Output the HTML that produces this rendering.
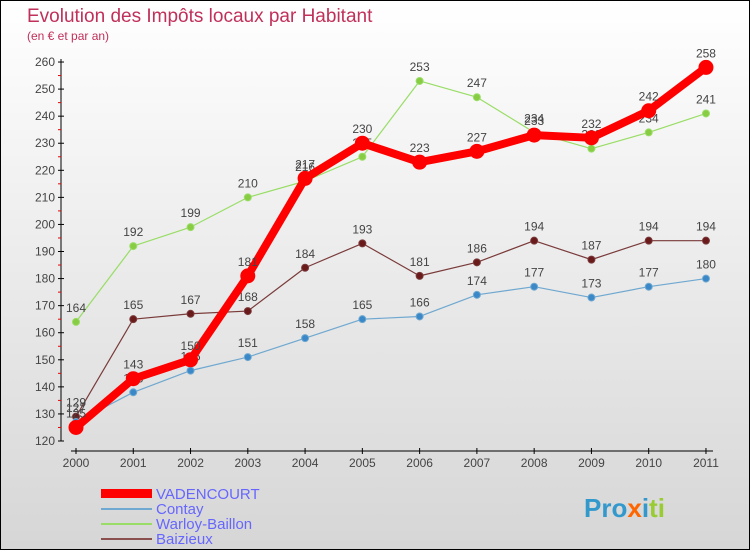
<!DOCTYPE html>
<html><head><meta charset="utf-8"><style>
body{margin:0;}
#c{position:relative;width:748px;height:548px;border:1px solid #000;background:linear-gradient(#ffffff,#d6d6d6);font-family:"Liberation Sans",sans-serif;overflow:hidden}
</style></head><body>
<div id="c">
<svg id="s" width="748" height="548" style="position:absolute;left:0;top:0">
<text x="26" y="21" font-size="19" fill="#c0305a">Evolution des Impôts locaux par Habitant</text>
<text x="26" y="39" font-size="12" fill="#c0305a">(en € et par an)</text>
<g id="axes"></g><g id="series"></g>
<g>
<rect x="100" y="488" width="51" height="9" fill="#f00"/>
<text x="155" y="498" font-size="15" fill="#6666ff">VADENCOURT</text>
<rect x="100" y="507" width="51" height="2" fill="#6fa8d0"/>
<text x="155" y="513" font-size="15" fill="#6666ff">Contay</text>
<rect x="100" y="522" width="51" height="2" fill="#99dd66"/>
<text x="155" y="528" font-size="15" fill="#6666ff">Warloy-Baillon</text>
<rect x="100" y="537" width="51" height="2" fill="#8a5050"/>
<text x="155" y="543" font-size="15" fill="#6666ff">Baizieux</text>
</g>
<text x="583" y="516" font-size="26" font-weight="bold"><tspan fill="#3399cc">Pro</tspan><tspan fill="#ff6600">x</tspan><tspan fill="#3399cc">i</tspan><tspan fill="#99cc33">ti</tspan></text>
</svg></div>
<script>
const years=[2000,2001,2002,2003,2004,2005,2006,2007,2008,2009,2010,2011];
const yTicks=[120,130,140,150,160,170,180,190,200,210,220,230,240,250,260];
const vadencourt=[125,143,150,181,217,230,223,227,233,232,242,258];
const contay=[127,138,146,151,158,165,166,174,177,173,177,180];
const warloy=[164,192,199,210,216,225,253,247,234,228,234,241];
const baizieux=[129,165,167,168,184,193,181,186,194,187,194,194];
const NS="http://www.w3.org/2000/svg";
const X=i=>75+i*57.27, Y=v=>440-(v-120)*2.707;
function mk(t,a,p){const e=document.createElementNS(NS,t);for(const k in a)e.setAttribute(k,a[k]);p.appendChild(e);return e;}
const ax=document.getElementById('axes');
let l=mk('line',{x1:60,y1:58,x2:60,y2:440,stroke:'#000'},ax);


l=mk('line',{x1:70,y1:450,x2:712,y2:450,stroke:'#000'},ax);


yTicks.forEach((v,i)=>{
 mk('line',{x1:57,x2:63,y1:Y(v),y2:Y(v),stroke:'#000'},ax);
 if(i<yTicks.length-1)mk('line',{x1:57,x2:60,y1:Y(v+5),y2:Y(v+5),stroke:'#e00'},ax);
 const t=mk('text',{x:54,y:Y(v)+4,'font-size':12,fill:'#444','text-anchor':'end'},ax);t.textContent=v;
 
 
});
years.forEach((y,i)=>{
 mk('line',{x1:X(i),x2:X(i),y1:447,y2:453,stroke:'#000'},ax);
 const t=mk('text',{x:X(i),y:466,'font-size':12,fill:'#444','text-anchor':'middle'},ax);t.textContent=y;
 
 
});
const sg=document.getElementById('series');
function series(d,color,w,r,name,dot){
 const g=mk('g',{},sg);
 
 
 const p=mk('polyline',{points:d.map((v,i)=>X(i)+','+Y(v)).join(' '),fill:'none',stroke:color,'stroke-width':w,'stroke-linejoin':'round'},g);
 
 
 d.forEach((v,i)=>{
  const c=mk('circle',{cx:X(i),cy:Y(v),r:r,fill:dot,stroke:color,'stroke-width':1},g);
  
  
  const t=mk('text',{x:X(i),y:Y(v)-10,'font-size':12,fill:'#444','text-anchor':'middle'},g);t.textContent=v;
  
  
 });
}
series(baizieux,'#7a3a3a',1.2,3.5,'baizieux','#6a1a1a');
series(contay,'#6fa8d0',1.2,3.5,'contay','#3a88c8');
series(warloy,'#99dd66',1.2,3.5,'warloy','#88cc44');
series(vadencourt,'#f00',8,7,'vadencourt','#f00');
</script>
</body></html>
